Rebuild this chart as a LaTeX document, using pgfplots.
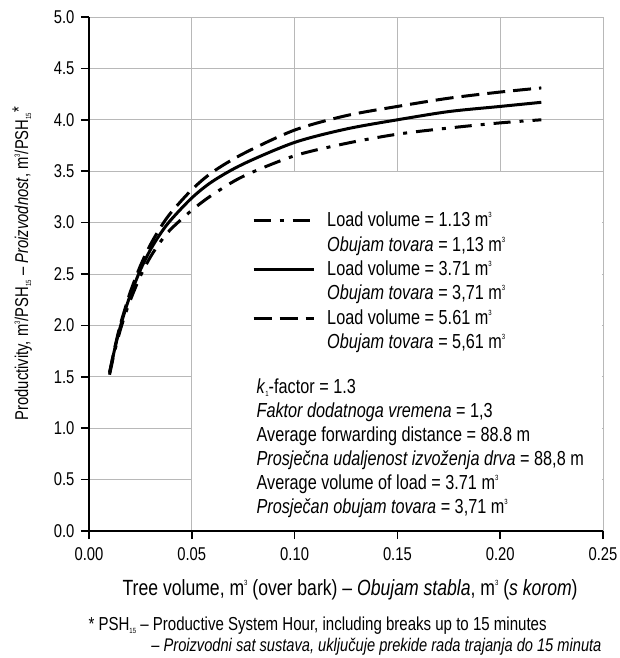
\documentclass[border=0pt]{standalone}
\usepackage{fontspec}
\setmainfont{Liberation Sans}[FakeStretch=0.8]
\usepackage{pgfplots}
\usepackage{pgfplotstable}
\pgfplotsset{compat=1.18}

\newcommand{\sups}[1]{\raisebox{0.85ex}{\fontsize{7.5}{7.5}\selectfont #1}}
\newcommand{\subs}[1]{\raisebox{-0.3ex}{\fontsize{7.5}{7.5}\selectfont #1}}

% load volume 1.13 m3 (dash-dot)
\pgfplotstableread{
x      y
0.010  1.52
0.0125 1.75
0.015  1.94
0.0175 2.10
0.020  2.24
0.025  2.48
0.030  2.67
0.035  2.82
0.040  2.94
0.050  3.12
0.060  3.27
0.075  3.45
0.100  3.65
0.125  3.77
0.150  3.86
0.175  3.92
0.200  3.97
0.220  4.00
}\lowload

% load volume 3.71 m3 (solid)
\pgfplotstableread{
x      y
0.010  1.54
0.0125 1.77
0.015  1.97
0.0175 2.14
0.020  2.29
0.025  2.54
0.030  2.74
0.035  2.90
0.040  3.03
0.050  3.24
0.060  3.40
0.075  3.57
0.100  3.78
0.125  3.91
0.150  4.00
0.175  4.08
0.200  4.13
0.220  4.17
}\midload

% load volume 5.61 m3 (dashed)
\pgfplotstableread{
x      y
0.010  1.54
0.0125 1.78
0.015  1.99
0.0175 2.16
0.020  2.32
0.025  2.58
0.030  2.79
0.035  2.96
0.040  3.10
0.050  3.32
0.060  3.49
0.075  3.67
0.100  3.90
0.125  4.04
0.150  4.13
0.175  4.21
0.200  4.27
0.220  4.31
}\highload

\begin{document}
\begin{tikzpicture}[font=\fontsize{20.3}{24}\selectfont]
\useasboundingbox (-89pt,-127pt) rectangle (530pt,531pt);
\begin{axis}[
  name=ax,
  scale only axis, width=514pt, height=514pt,
  xmin=0, xmax=0.25, ymin=0, ymax=5,
  xtick={0,0.05,0.10,0.15,0.20,0.25},
  ytick={0,0.5,1,1.5,2,2.5,3,3.5,4,4.5,5},
  axis x line=bottom, axis y line=left,
  axis line style={-, line width=1.6pt},
  tick align=outside, major tick length=8pt,
  tick style={black, line width=1.6pt},
  grid=major, major grid style={draw=black!28, line width=0.9pt},
  tick label style={font=\fontsize{18.5}{20}\selectfont},
  xticklabel style={yshift=-5pt, /pgf/number format/.cd, fixed, fixed zerofill, precision=2, assume math mode=true},
  yticklabel style={xshift=-3pt, /pgf/number format/.cd, fixed, fixed zerofill, precision=1, assume math mode=true},
  xlabel={Tree volume, m\sups{3} (over bark) -- \textit{Obujam stabla}, m\sups{3} (\textit{s korom})},
  ylabel={Productivity, m\sups{3}/PSH\subs{15} -- \textit{Proizvodnost}, m\sups{3}/PSH\subs{15}\raisebox{0.3ex}{*}},
  xlabel style={at={(axis description cs:0.508,-0.115)}, anchor=center, font=\fontsize{22}{24}\selectfont},
  ylabel style={at={(axis description cs:-0.130,0.52)}, anchor=center, font=\fontsize{18.5}{22}\selectfont},
  legend cell align=left,
  legend image code/.code={\draw[#1] (0pt,1.5pt) -- (60pt,1.5pt);},
  legend style={at={(axis cs:0.0793,3.127)}, anchor=north west, draw=none, fill=none,
    inner sep=0pt, row sep=0pt, column sep=12pt,
    nodes={inner sep=0pt, text height=17pt, text depth=7.4pt}},
]
\fill[white] (axis cs:0.0503,0.012) rectangle (axis cs:0.2497,3.494);

\addplot[black, line width=3pt, smooth, dash pattern=on 17pt off 9pt on 4pt off 9pt] table {\lowload};
\addlegendentry{Load volume = 1.13 m\sups{3}}
\addlegendimage{empty legend}
\addlegendentry{\textit{Obujam tovara} = 1,13 m\sups{3}}

\addplot[black, line width=3pt, smooth] table {\midload};
\addlegendentry{Load volume = 3.71 m\sups{3}}
\addlegendimage{empty legend}
\addlegendentry{\textit{Obujam tovara} = 3,71 m\sups{3}}

\addplot[black, line width=3pt, smooth, dash pattern=on 18pt off 8pt] table {\highload};
\addlegendentry{Load volume = 5.61 m\sups{3}}
\addlegendimage{empty legend}
\addlegendentry{\textit{Obujam tovara} = 5,61 m\sups{3}}

\node[anchor=base west] at (axis cs:0.0798,1.338) {\textit{k}\subs{1}-factor = 1.3};
\node[anchor=base west] at (axis cs:0.0798,1.104) {\textit{Faktor dodatnoga vremena} = 1,3};
\node[anchor=base west] at (axis cs:0.0798,0.866) {Average forwarding distance = 88.8 m};
\node[anchor=base west] at (axis cs:0.0798,0.637) {\textit{Prosječna udaljenost izvoženja drva} = 88,8 m};
\node[anchor=base west] at (axis cs:0.0798,0.404) {Average volume of load = 3.71 m\sups{3}};
\node[anchor=base west] at (axis cs:0.0798,0.170) {\textit{Prosječan obujam tovara} = 3,71 m\sups{3}};
\end{axis}
\node[anchor=west, font=\fontsize{18.8}{22}\selectfont] at (-4pt,-95pt)
  {* PSH\subs{15} -- Productive System Hour, including breaks up to 15 minutes};
\node[anchor=east, font=\fontsize{18.3}{22}\selectfont\itshape] at (516pt,-116pt)
  {-- Proizvodni sat sustava, uključuje prekide rada trajanja do 15 minuta};
\end{tikzpicture}
\end{document}
